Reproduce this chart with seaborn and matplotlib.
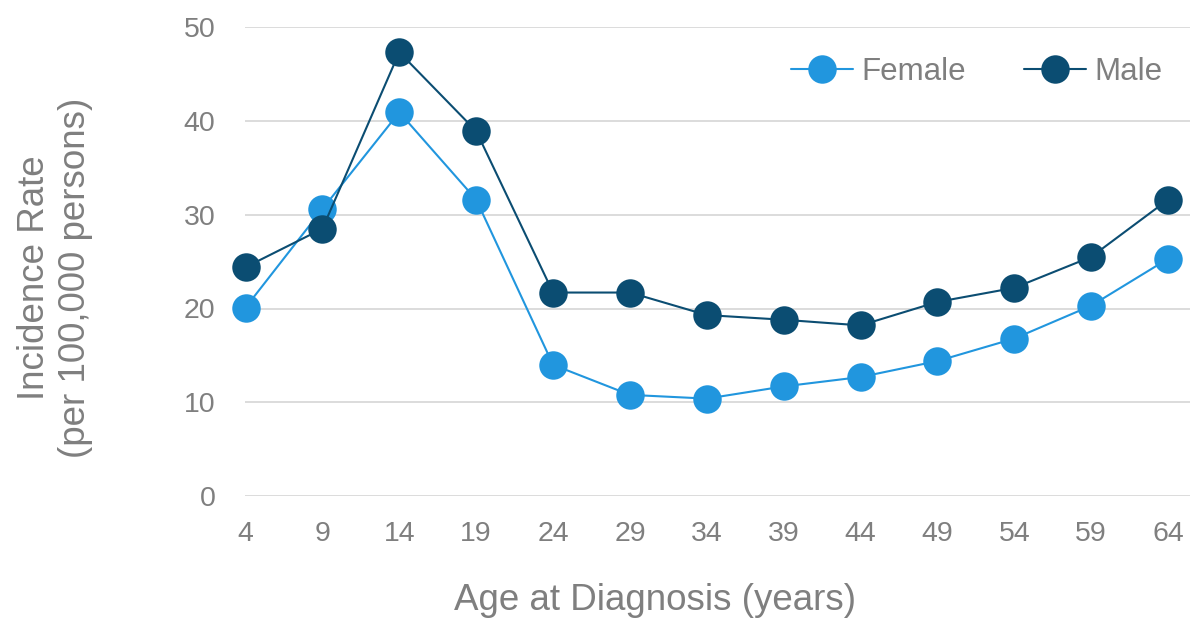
import pandas as pd
import matplotlib.pyplot as plt
import seaborn as sns

ages = [4, 9, 14, 19, 24, 29, 34, 39, 44, 49, 54, 59, 64]
female = [20.1, 30.6, 40.9, 31.6, 14.0, 10.8, 10.4, 11.7, 12.7, 14.4, 16.8, 20.3, 25.3]
male = [24.4, 28.5, 47.3, 38.9, 21.7, 21.7, 19.3, 18.8, 18.2, 20.7, 22.2, 25.5, 31.6]

df = pd.DataFrame({
    "idx": list(range(len(ages))) * 2,
    "rate": female + male,
    "sex": ["Female"] * len(ages) + ["Male"] * len(ages),
})

sns.set_style("white")
plt.rcParams["font.family"] = ["Liberation Sans", "DejaVu Sans"]
grey = "#7f7f7f"

fig = plt.figure(figsize=(11.94, 6.25), dpi=100)
ax = fig.add_axes([0.205, 0.206, 0.792, 0.751])

palette = {"Female": "#2196de", "Male": "#0b4d72"}
sns.lineplot(data=df, x="idx", y="rate", hue="sex", palette=palette,
             marker="o", markersize=20.5, markeredgewidth=0, linewidth=1.5,
             ax=ax, clip_on=False, zorder=3)

ax.set_ylim(0, 50)
ax.set_xlim(-0.01, 12.29)
ax.set_yticks([0, 10, 20, 30, 40, 50])
ax.set_xticks(range(len(ages)))
ax.set_xticklabels([str(a) for a in ages])
ax.yaxis.grid(True, color="#d9d9d9", linewidth=1.3)
ax.xaxis.grid(False)
for s in ax.spines.values():
    s.set_visible(False)
ax.tick_params(axis="both", length=0, labelsize=20.5, labelcolor=grey)
ax.tick_params(axis="y", pad=21)
ax.tick_params(axis="x", pad=18)

ax.set_xlabel("")
ax.set_ylabel("")
fig.text(655 / 1194, 1 - 600 / 625, "Age at Diagnosis (years)", fontsize=26.5,
         color=grey, ha="center", va="center")
fig.text(55 / 1194, 1 - 278 / 625, "Incidence Rate\n(per 100,000 persons)", fontsize=26.5,
         color=grey, ha="center", va="center", rotation=90, multialignment="center",
         linespacing=1.2)

leg = ax.legend(loc="center right", bbox_to_anchor=(0.970, 0.904), ncol=2, frameon=False,
                fontsize=22.5, handlelength=2.0, columnspacing=1.85, handletextpad=0.25,
                borderaxespad=0, borderpad=0, markerscale=1.0)
for t in leg.get_texts():
    t.set_color(grey)

fig.savefig("out.png", dpi=100, facecolor="white")
